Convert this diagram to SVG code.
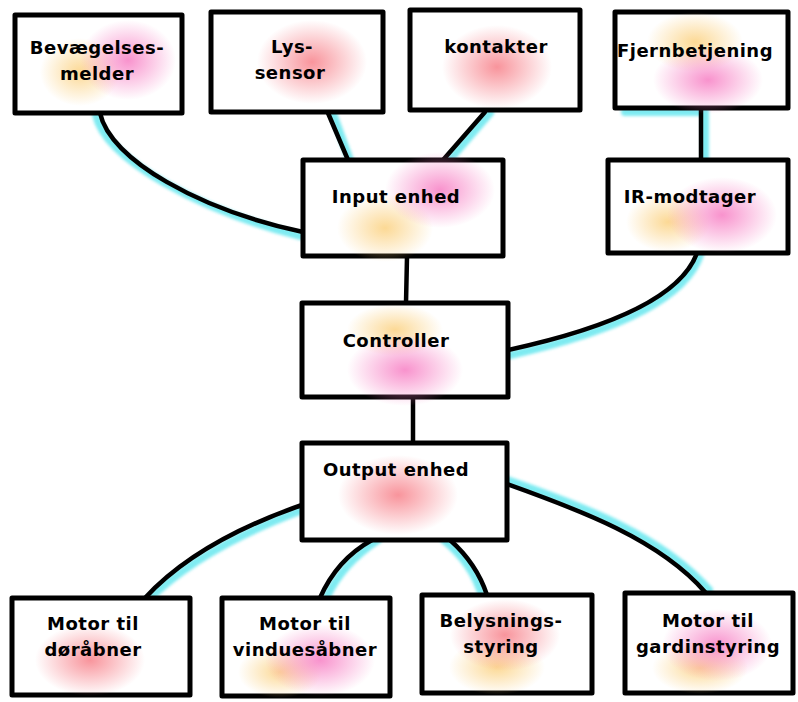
<svg xmlns="http://www.w3.org/2000/svg" width="798" height="702" viewBox="0 0 798 702">
<style>
.box{fill:#fff;stroke:#000;stroke-width:5;stroke-linejoin:round}
.lbl{font-family:"DejaVu Sans",Verdana,sans-serif;font-weight:bold;font-size:18px;letter-spacing:0.5px;fill:#000;text-anchor:middle}
.wire{fill:none;stroke:#000;stroke-width:4.5;stroke-linecap:round}
.glow{fill:none;stroke:#5ee6ee;stroke-width:8;stroke-linecap:round;opacity:.8;filter:url(#blur)}
</style>
<defs>
<filter id="blur" x="-20%" y="-20%" width="140%" height="140%"><feGaussianBlur stdDeviation="1.8"/></filter>
<radialGradient id="pk"><stop offset="0" stop-color="#f77fc4" stop-opacity=".85"/><stop offset="1" stop-color="#f77fc4" stop-opacity="0"/></radialGradient>
<radialGradient id="rd"><stop offset="0" stop-color="#f7818a" stop-opacity=".85"/><stop offset="1" stop-color="#f7818a" stop-opacity="0"/></radialGradient>
<radialGradient id="yl"><stop offset="0" stop-color="#fbcf7a" stop-opacity=".8"/><stop offset="1" stop-color="#fbcf7a" stop-opacity="0"/></radialGradient>
</defs>
<rect width="798" height="702" fill="#fff"/>
<g id="connectors">
<path class="glow" d="M96,115 C106,160 200,210 300,236"/>
<path class="wire" d="M100,113 C110,160 200,210 303,232"/>
<path class="glow" d="M331,108 L352,166"/>
<path class="wire" d="M328,113 L348,160"/>
<path class="glow" d="M490,113 L446,164"/>
<path class="wire" d="M485,112 L443,160"/>
<path class="glow" d="M705,110 L705,160 M625,112 L700,112"/>
<path class="wire" d="M701,108 L701,160"/>
<path class="glow" d="M410,258 L410,303"/>
<path class="wire" d="M407,257 L406,303"/>
<path class="glow" d="M700,255 C684,302 604,334 510,355"/>
<path class="wire" d="M697,253 C680,300 600,330 508,350"/>
<path class="glow" d="M418,398 L418,443"/>
<path class="wire" d="M413,397 L413,443"/>
<path class="glow" d="M302,510 C232,536 182,566 148,600"/>
<path class="wire" d="M302,505 C230,530 180,560 145,598"/>
<path class="glow" d="M378,540 C352,557 336,577 326,598"/>
<path class="wire" d="M372,540 C345,555 330,575 320,598"/>
<path class="glow" d="M444,540 C462,555 476,574 482,596"/>
<path class="wire" d="M450,540 C467,555 480,574 487,595"/>
<path class="glow" d="M507,480 C582,506 662,536 709,590"/>
<path class="wire" d="M507,484 C580,510 660,540 705,592"/>
</g>
<g id="bevaegelsesmelder">
<rect class="box" x="15" y="15" width="167" height="98"/>
<ellipse cx="80" cy="72" rx="40" ry="34" fill="url(#yl)"/>
<ellipse cx="128" cy="60" rx="48" ry="40" fill="url(#pk)"/>
<text class="lbl" x="97" y="54">Bevægelses-</text>
<text class="lbl" x="97" y="80">melder</text>
</g>
<g id="lyssensor">
<rect class="box" x="211" y="12" width="172" height="100"/>
<ellipse cx="312" cy="62" rx="55" ry="42" fill="url(#rd)"/>
<text class="lbl" x="292" y="53">Lys-</text>
<text class="lbl" x="290" y="79">sensor</text>
</g>
<g id="kontakter">
<rect class="box" x="410" y="10" width="170" height="100"/>
<ellipse cx="497" cy="67" rx="55" ry="42" fill="url(#rd)"/>
<text class="lbl" x="496" y="53">kontakter</text>
</g>
<g id="fjernbetjening">
<rect class="box" x="615" y="12" width="173" height="96"/>
<ellipse cx="695" cy="42" rx="48" ry="30" fill="url(#yl)"/>
<ellipse cx="708" cy="80" rx="55" ry="34" fill="url(#pk)"/>
<text class="lbl" x="695" y="57">Fjernbetjening</text>
</g>
<g id="input-enhed">
<rect class="box" x="303" y="160" width="200" height="96"/>
<ellipse cx="385" cy="228" rx="48" ry="34" fill="url(#yl)"/>
<ellipse cx="440" cy="190" rx="55" ry="38" fill="url(#pk)"/>
<text class="lbl" x="396" y="203">Input enhed</text>
</g>
<g id="ir-modtager">
<rect class="box" x="608" y="160" width="180" height="93"/>
<ellipse cx="668" cy="222" rx="42" ry="30" fill="url(#yl)"/>
<ellipse cx="722" cy="215" rx="55" ry="38" fill="url(#pk)"/>
<text class="lbl" x="690" y="203">IR-modtager</text>
</g>
<g id="controller">
<rect class="box" x="302" y="303" width="206" height="94"/>
<ellipse cx="395" cy="330" rx="48" ry="26" fill="url(#yl)"/>
<ellipse cx="405" cy="370" rx="58" ry="36" fill="url(#pk)"/>
<text class="lbl" x="396" y="347">Controller</text>
</g>
<g id="output-enhed">
<rect class="box" x="302" y="443" width="205" height="97"/>
<ellipse cx="398" cy="495" rx="60" ry="40" fill="url(#rd)"/>
<text class="lbl" x="396" y="476">Output enhed</text>
</g>
<g id="motor-doeraabner">
<rect class="box" x="12" y="598" width="178" height="97"/>
<ellipse cx="90" cy="660" rx="55" ry="36" fill="url(#rd)"/>
<text class="lbl" x="93" y="630">Motor til</text>
<text class="lbl" x="93" y="656">døråbner</text>
</g>
<g id="motor-vinduesaabner">
<rect class="box" x="222" y="598" width="168" height="98"/>
<ellipse cx="280" cy="672" rx="42" ry="26" fill="url(#yl)"/>
<ellipse cx="320" cy="660" rx="55" ry="36" fill="url(#pk)"/>
<text class="lbl" x="305" y="630">Motor til</text>
<text class="lbl" x="305" y="656">vinduesåbner</text>
</g>
<g id="belysningsstyring">
<rect class="box" x="422" y="595" width="170" height="98"/>
<ellipse cx="497" cy="667" rx="48" ry="28" fill="url(#yl)"/>
<ellipse cx="505" cy="635" rx="55" ry="36" fill="url(#rd)"/>
<text class="lbl" x="501" y="627">Belysnings-</text>
<text class="lbl" x="501" y="653">styring</text>
</g>
<g id="motor-gardinstyring">
<rect class="box" x="625" y="593" width="168" height="100"/>
<ellipse cx="700" cy="668" rx="48" ry="26" fill="url(#yl)"/>
<ellipse cx="717" cy="645" rx="55" ry="36" fill="url(#pk)"/>
<text class="lbl" x="708" y="627">Motor til</text>
<text class="lbl" x="708" y="653">gardinstyring</text>
</g>
</svg>
